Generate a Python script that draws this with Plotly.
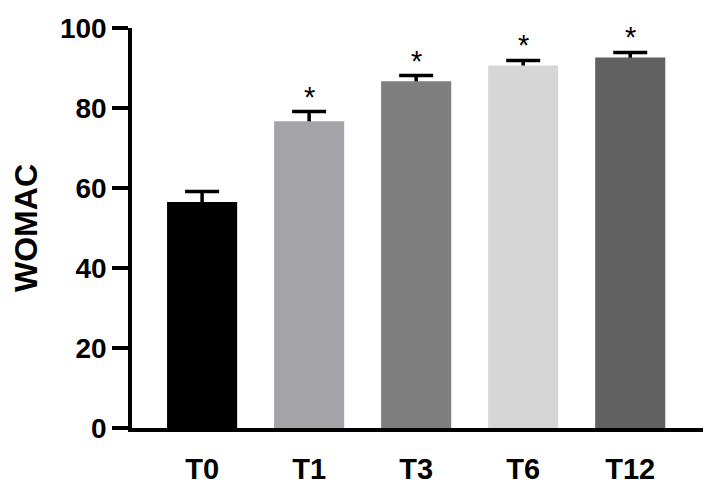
import plotly.graph_objects as go

categories = ["T0", "T1", "T3", "T6", "T12"]
means = [56.5, 76.7, 86.7, 90.6, 92.6]
sem = [2.6, 2.4, 1.4, 1.3, 1.3]
colors = ["#000000", "#a4a3a8", "#7f7f7f", "#d6d6d6", "#616161"]
significant = ["", "*", "*", "*", "*"]
y_ticks = [0, 20, 40, 60, 80, 100]

FONT = "Liberation Sans, Arial, sans-serif"
BAR_W = 0.655

fig = go.Figure()
# error bars drawn first (symmetric) so that the coloured bars hide their lower half
fig.add_trace(go.Bar(
    x=categories, y=means, width=BAR_W,
    marker=dict(color="rgba(0,0,0,0)", line=dict(width=0)),
    error_y=dict(type="data", array=sem, symmetric=True,
                 color="black", thickness=3.5, width=17),
    showlegend=False, hoverinfo="skip",
))
fig.add_trace(go.Bar(
    x=categories, y=means, width=BAR_W,
    marker=dict(color=colors, line=dict(width=0)),
    showlegend=False,
))

for c, m, e, s in zip(categories, means, sem, significant):
    if s:
        fig.add_annotation(x=c, y=m + e, text=s, showarrow=False,
                           yanchor="middle", yshift=15,
                           font=dict(family=FONT, size=29, color="black"))

fig.update_layout(
    width=720, height=494,
    margin=dict(l=132, r=17, t=28, b=66),
    plot_bgcolor="white", paper_bgcolor="white",
    barmode="overlay",
)
fig.update_xaxes(
    range=[-0.655, 4.68], automargin=False,
    showline=True, linecolor="black", linewidth=3.5,
    ticks="", showgrid=False, zeroline=False,
    tickfont=dict(family=FONT, size=29, color="black", weight="bold"),
    ticklabelstandoff=12,
)
fig.update_yaxes(
    range=[0, 100], tickvals=y_ticks, automargin=False,
    showline=True, linecolor="black", linewidth=3.5,
    ticks="outside", ticklen=16, tickwidth=3.5, tickcolor="black",
    showgrid=False, zeroline=False,
    tickfont=dict(family=FONT, size=28, color="black", weight="bold"),
    ticklabelstandoff=0,
    title=dict(text="WOMAC", standoff=14,
               font=dict(family=FONT, size=32, color="black", weight="bold")),
)

fig.write_html("out.html", config={"displayModeBar": False},
               post_script="document.body.style.margin='0';")
